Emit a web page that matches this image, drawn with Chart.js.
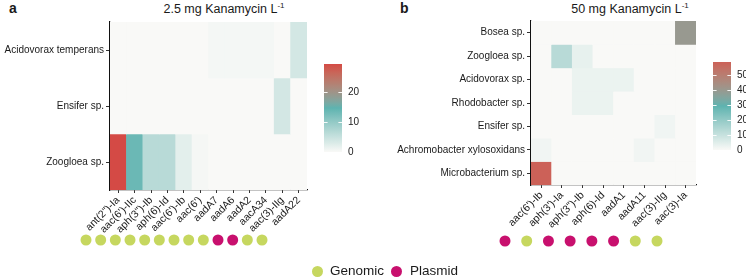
<!DOCTYPE html>
<html>
<head>
<meta charset="utf-8">
<script src="https://cdn.jsdelivr.net/npm/chart.js@4"></script>
<style>
  html, body { margin:0; padding:0; background:#fff; }
  body { width:746px; height:279px; position:relative; overflow:hidden; font-family:"Liberation Sans", Arial, sans-serif; color:#1a1a1a; }
  .box { position:absolute; }
  .box canvas { display:block; }
  .lbl { position:absolute; font-weight:bold; font-size:14px; }
  .ttl { position:absolute; font-size:12.5px; text-align:center; white-space:nowrap; }
  .ttl sup { font-size:8px; vertical-align:5px; line-height:0; }
  .leg { position:absolute; top:263px; font-size:13.5px; white-space:nowrap; }
  .dot { position:absolute; width:11px; height:11px; border-radius:50%; }
</style>
</head>
<body>
<div class="lbl" style="left:9px;top:0px;">a</div>
<div class="lbl" style="left:400px;top:0px;">b</div>
<div class="ttl" style="left:124px;width:200px;top:2px;">2.5 mg Kanamycin L<sup>-1</sup></div>
<div class="ttl" style="left:530px;width:200px;top:2px;">50 mg Kanamycin L<sup>-1</sup></div>

<div class="box" style="left:0px;top:0px;"><canvas id="heatA" width="312" height="238"></canvas></div>
<div class="box" style="left:324px;top:0px;"><canvas id="barA" width="50" height="170"></canvas></div>
<div class="box" style="left:70px;top:230px;"><canvas id="dotsA" width="210" height="20"></canvas></div>

<div class="box" style="left:380px;top:0px;"><canvas id="heatB" width="320" height="238"></canvas></div>
<div class="box" style="left:713px;top:0px;"><canvas id="barB" width="33" height="170"></canvas></div>
<div class="box" style="left:490px;top:231px;"><canvas id="dotsB" width="190" height="20"></canvas></div>

<div class="dot" style="left:312px;top:266px;background:#c6d75f;"></div>
<div class="leg" style="left:330px;">Genomic</div>
<div class="dot" style="left:391px;top:266px;background:#c8106e;"></div>
<div class="leg" style="left:410px;">Plasmid</div>

<script>
// ---------------- DATA ----------------
const genesA = ['ant(2")-Ia', "aac(6')-IIc", 'aph(3")-Ib', 'aph(6)-Id', "aac(6')-Ib", "aac(6')", 'aadA7', 'aadA6', 'aadA2', 'aacA34', 'aac(3)-IIg', 'aadA22'];
const speciesA = ['Acidovorax temperans', 'Ensifer sp.', 'Zoogloea sp.'];
const acidovoraxTemperansA = [0, 0, 0, 0, 0, 0, 0.5, 0.5, 0.5, 0.5, 0, 3.8];
const ensiferA             = [0, 0, 0, 0, 0, 0, 0, 0, 0, 0, 3.8, 0];
const zoogloeaA            = [29.5, 13.6, 6.5, 6.5, 2.2, 0.4, 0, 0, 0, 0, 0, 0];
const ticksA = [0, 10, 20];
const originA = ['Genomic','Genomic','Genomic','Genomic','Genomic','Genomic','Genomic','Genomic','Genomic','Plasmid','Plasmid','Genomic','Genomic'];

const genesB = ["aac(6')-Ib", "aph(3')-Ia", 'aph(3")-Ib', 'aph(6)-Id', 'aadA1', 'aadA11', 'aac(3)-IIg', 'aac(3)-Ia'];
const speciesB = ['Bosea sp.', 'Zoogloea sp.', 'Acidovorax sp.', 'Rhodobacter sp.', 'Ensifer sp.', 'Achromobacter xylosoxidans', 'Microbacterium sp.'];
const boseaB          = [0, 0, 0, 0, 0, 0, 0, 40];
const zoogloeaB       = [0, 13, 3.5, 0, 0, 0, 0, 0];
const acidovoraxB     = [0, 0, 2.7, 2.7, 2.7, 0, 0, 0];
const rhodobacterB    = [0, 0, 2.7, 2.7, 0, 0, 0, 0];
const ensiferB        = [0, 0, 0, 0, 0, 0, 1.8, 0];
const achromobacterB  = [1.5, 0, 0, 0, 0, 1.5, 0, 0];
const microbacteriumB = [59, 0, 0, 0, 0, 0, 0, 0];
const ticksB = [0, 10, 20, 30, 40, 50];
const originB = ['Plasmid','Genomic','Plasmid','Plasmid','Plasmid','Plasmid','Genomic','Genomic'];

const originColors = { Genomic: '#c6d75f', Plasmid: '#c8106e' };

// ---------------- colour (Lab interpolation like ggplot) ----------------
function hex2rgb(h){ h=h.replace('#',''); return [0,2,4].map(i=>parseInt(h.substr(i,2),16)); }
function toLin(c){ c/=255; return c<=0.04045? c/12.92 : Math.pow((c+0.055)/1.055,2.4); }
function toSrgb(c){ c = c<=0.0031308? 12.92*c : 1.055*Math.pow(c,1/2.4)-0.055; return Math.max(0,Math.min(255,Math.round(c*255))); }
const WX=0.95047, WY=1, WZ=1.08883;
function rgb2lab(rgb){
  const [r,g,b]=rgb.map(toLin);
  const x=(0.4124*r+0.3576*g+0.1805*b)/WX, y=(0.2126*r+0.7152*g+0.0722*b)/WY, z=(0.0193*r+0.1192*g+0.9505*b)/WZ;
  const f=t=> t>0.008856? Math.cbrt(t) : 7.787*t+16/116;
  const fx=f(x), fy=f(y), fz=f(z);
  return [116*fy-16, 500*(fx-fy), 200*(fy-fz)];
}
function lab2rgb(lab){
  const [L,a,b]=lab; const fy=(L+16)/116, fx=fy+a/500, fz=fy-b/200;
  const fi=t=> t*t*t>0.008856? t*t*t : (t-16/116)/7.787;
  const x=fi(fx)*WX, y=fi(fy)*WY, z=fi(fz)*WZ;
  const r=3.2406*x-1.5372*y-0.4986*z, g=-0.9689*x+1.8758*y+0.0415*z, bb=0.0557*x-0.2040*y+1.0570*z;
  return [toSrgb(r),toSrgb(g),toSrgb(bb)];
}
function makeScale(stops, max){
  const labs = stops.map(s=>[s[0], rgb2lab(hex2rgb(s[1]))]);
  return v => {
    let t = Math.max(0, Math.min(1, v/max));
    let i=0; while(i<labs.length-2 && t>labs[i+1][0]) i++;
    const [p0,l0]=labs[i], [p1,l1]=labs[i+1];
    const u=(t-p0)/(p1-p0);
    const c=lab2rgb(l0.map((x,k)=>x+(l1[k]-x)*u));
    return `rgb(${c[0]},${c[1]},${c[2]})`;
  };
}
const rowsA = [acidovoraxTemperansA, ensiferA, zoogloeaA];
const rowsB = [boseaB, zoogloeaB, acidovoraxB, rhodobacterB, ensiferB, achromobacterB, microbacteriumB];
const maxA = Math.max(...rowsA.flat()), maxB = Math.max(...rowsB.flat());
const colA = makeScale([[0,'#f9f9f7'],[0.5,'#5db3b0'],[1,'#d44a45']], maxA);
const colB = makeScale([[0,'#f9f9f7'],[0.5,'#5db3b0'],[1,'#cc6158']], maxB);

const FONT = '"Liberation Sans", Arial, sans-serif';
Chart.defaults.font.family = FONT;
Chart.defaults.color = '#1a1a1a';

function heatmap(id, genes, species, rows, colorFn, yWidth, xHeight, pad){
  new Chart(document.getElementById(id), {
    type: 'bar',
    data: {
      labels: genes,
      datasets: species.map((sp, r) => ({
        label: sp,
        data: genes.map(() => [r - 0.5, r + 0.5]),
        backgroundColor: rows[r].map(colorFn),
        borderWidth: 0,
        grouped: false,
        barPercentage: 1,
        categoryPercentage: 1
      }))
    },
    options: {
      responsive: false, animation: false, events: [],
      layout: { padding: pad },
      plugins: { legend: { display: false }, tooltip: { enabled: false } },
      scales: {
        x: {
          grid: { display: true, drawOnChartArea: false, offset: false, tickLength: 3, tickColor: '#333', tickWidth: 1 },
          border: { display: true, color: '#111', width: 1.2 },
          ticks: { autoSkip: false, minRotation: 45, maxRotation: 45, padding: 1, font: { size: 10.5 }, color: '#1a1a1a' },
          afterFit: s => { s.height = xHeight; }
        },
        y: {
          type: 'linear', reverse: true, min: -0.5, max: species.length - 0.5,
          afterBuildTicks: s => { s.ticks = species.map((_, i) => ({ value: i })); },
          grid: { display: true, drawOnChartArea: false, tickLength: 4, tickColor: '#333', tickWidth: 1 },
          border: { display: true, color: '#111', width: 1.2 },
          ticks: { padding: 2, font: { size: 10 }, color: '#1a1a1a', callback: v => species[v] },
          afterFit: s => { s.width = yWidth; }
        }
      }
    }
  });
}

const barTicks = {
  id: 'barTicks',
  afterDatasetsDraw(chart) {
    const { ctx, chartArea: a, scales: { y } } = chart;
    ctx.save(); ctx.strokeStyle = 'rgba(255,255,255,0.9)'; ctx.lineWidth = 1;
    y.ticks.forEach(t => {
      const py = Math.round(y.getPixelForValue(t.value)) + 0.5;
      const w = (a.right - a.left) / 5;
      ctx.beginPath(); ctx.moveTo(a.left, py); ctx.lineTo(a.left + w, py);
      ctx.moveTo(a.right - w, py); ctx.lineTo(a.right, py); ctx.stroke();
    });
    ctx.restore();
  }
};

function colorbar(id, max, ticks, colorFn, yWidth, pad){
  new Chart(document.getElementById(id), {
    type: 'bar',
    data: {
      labels: [''],
      datasets: [{
        data: [[0, max]],
        borderWidth: 0, barPercentage: 1, categoryPercentage: 1,
        backgroundColor: (c) => {
          const ch = c.chart; if (!ch.chartArea) return '#fff';
          const y = ch.scales.y;
          const g = ch.ctx.createLinearGradient(0, y.getPixelForValue(0), 0, y.getPixelForValue(max));
          for (let i = 0; i <= 40; i++) g.addColorStop(i / 40, colorFn(max * i / 40));
          return g;
        }
      }]
    },
    options: {
      responsive: false, animation: false, events: [],
      layout: { padding: pad },
      plugins: { legend: { display: false }, tooltip: { enabled: false } },
      scales: {
        x: { display: false },
        y: {
          position: 'right', min: 0, max: max,
          afterBuildTicks: s => { s.ticks = ticks.map(v => ({ value: v })); },
          grid: { display: false, drawTicks: false, tickLength: 0 }, border: { display: false },
          ticks: { padding: 6, font: { size: 10 }, color: '#1a1a1a' },
          afterFit: s => { s.width = yWidth; }
        }
      }
    },
    plugins: [barTicks]
  });
}

function dots(id, origin, pad){
  new Chart(document.getElementById(id), {
    type: 'scatter',
    data: {
      datasets: [{
        data: origin.map((o, i) => ({ x: i, y: 0.5 })),
        pointRadius: 5.5, pointBorderWidth: 0,
        pointBackgroundColor: origin.map(o => originColors[o]),
        clip: false
      }]
    },
    options: {
      responsive: false, animation: false, events: [],
      layout: { padding: pad },
      plugins: { legend: { display: false }, tooltip: { enabled: false } },
      scales: {
        x: { display: false, min: 0, max: origin.length - 1 },
        y: { display: false, min: 0, max: 1 }
      }
    }
  });
}

heatmap('heatA', genesA, speciesA, rowsA, colA, 110, 48, { top: 22, right: 5, left: 0, bottom: 0 });
heatmap('heatB', genesB, speciesB, rowsB, colB, 151, 53, { top: 21, right: 4, left: 0, bottom: 0 });
colorbar('barA', maxA, ticksA, colA, 22, { top: 64, bottom: 18, left: 0, right: 10 });
colorbar('barB', maxB, ticksB, colB, 15, { top: 62, bottom: 20, left: 0, right: 0 });
dots('dotsA', originA, { left: 16, right: 18, top: 0, bottom: 0 });
dots('dotsB', originB, { left: 15, right: 23, top: 0, bottom: 0 });
</script>
</body>
</html>
